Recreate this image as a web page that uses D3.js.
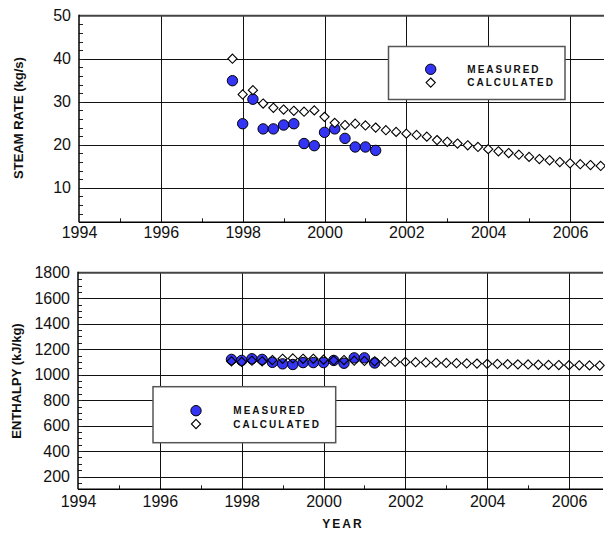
<!DOCTYPE html>
<html>
<head>
<meta charset="utf-8">
<script src="https://d3js.org/d3.v7.min.js"></script>
<style>
  body { margin: 0; background: #fff; }
  svg { display: block; font-family: Arial, "Liberation Sans", sans-serif; }
</style>
</head>
<body>
<div id="chart"></div>
<script>
var width = 605,
    height = 536;

// quarterly time points (calculated series), measured uses the first 15
var years = [1997.75, 1998, 1998.25, 1998.5, 1998.75, 1999, 1999.25, 1999.5, 1999.75,
             2000, 2000.25, 2000.5, 2000.75, 2001, 2001.25, 2001.5, 2001.75,
             2002, 2002.25, 2002.5, 2002.75, 2003, 2003.25, 2003.5, 2003.75,
             2004, 2004.25, 2004.5, 2004.75, 2005, 2005.25, 2005.5, 2005.75,
             2006, 2006.25, 2006.5, 2006.75];
var measuredYears = [1997.75, 1998, 1998.25, 1998.5, 1998.75, 1999, 1999.25, 1999.5,
                     1999.75, 2000, 2000.25, 2000.5, 2000.75, 2001, 2001.25];

var steamMeasured = [34.9, 24.9, 30.6, 23.7, 23.7, 24.6, 24.9, 20.3, 19.8, 22.9,
                     23.7, 21.5, 19.5, 19.5, 18.7];
var steamCalculated = [40.0, 31.7, 32.7, 29.6, 28.6, 28.2, 27.9, 27.7, 28.0, 26.5,
                       25.1, 24.6, 24.9, 24.5, 24.0, 23.4, 23.0, 22.6, 22.3, 21.9,
                       21.1, 20.7, 20.3, 19.9, 19.5, 19.0, 18.5, 18.1, 17.7, 17.2,
                       16.7, 16.4, 16.0, 15.7, 15.5, 15.3, 15.1];

var enthalpyMeasured = [1120, 1112, 1125, 1120, 1097, 1085, 1080, 1095, 1095, 1095,
                        1112, 1090, 1132, 1132, 1092];
var enthalpyCalculated = [1105, 1100, 1110, 1105, 1115, 1125, 1128, 1125, 1125, 1118,
                          1112, 1115, 1110, 1108, 1105, 1102, 1100, 1100, 1098, 1096,
                          1094, 1092, 1090, 1088, 1087, 1085, 1084, 1082, 1081, 1080,
                          1078, 1077, 1076, 1075, 1074, 1073, 1072];

var yearTicks = [1994, 1996, 1998, 2000, 2002, 2004, 2006];
var yearMinor = [1995, 1997, 1999, 2001, 2003, 2005];
var steamTicks = [10, 20, 30, 40, 50];
var enthalpyTicks = [200, 400, 600, 800, 1000, 1200, 1400, 1600, 1800];
var legendLabels = ["MEASURED", "CALCULATED"];

var blue = "#3434f4";

var svg = d3.select("#chart").append("svg")
    .attr("width", width)
    .attr("height", height);

function diamond(s) {
  return "M0," + (-s) + "L" + s + ",0L0," + s + "L" + (-s) + ",0Z";
}

function panel(opt) {
  var x = d3.scaleLinear().domain([1994, 2006.83]).range([opt.left, opt.right]);
  var y = d3.scaleLinear().domain(opt.yDomain).range([opt.bottom, opt.top]);

  var g = svg.append("g");

  // grid
  g.selectAll(".hgrid")
      .data(opt.yTicks.slice(0, -1))
    .enter().append("line")
      .attr("x1", opt.left).attr("x2", opt.right)
      .attr("y1", function(d) { return Math.round(y(d)) + 0.5; })
      .attr("y2", function(d) { return Math.round(y(d)) + 0.5; })
      .attr("stroke", "#111").attr("stroke-width", 1);
  g.selectAll(".vgrid")
      .data(yearTicks.slice(1))
    .enter().append("line")
      .attr("y1", opt.top).attr("y2", opt.bottom)
      .attr("x1", function(d) { return Math.round(x(d)) + 0.5; })
      .attr("x2", function(d) { return Math.round(x(d)) + 0.5; })
      .attr("stroke", "#111").attr("stroke-width", 1);

  // minor ticks
  g.selectAll(".yminor")
      .data(opt.yMinor)
    .enter().append("line")
      .attr("x1", opt.left).attr("x2", opt.left + 4)
      .attr("y1", function(d) { return Math.round(y(d)) + 0.5; })
      .attr("y2", function(d) { return Math.round(y(d)) + 0.5; })
      .attr("stroke", "#222");
  g.selectAll(".xminor")
      .data(yearMinor)
    .enter().append("line")
      .attr("y1", opt.bottom).attr("y2", opt.bottom - 4)
      .attr("x1", function(d) { return Math.round(x(d)) + 0.5; })
      .attr("x2", function(d) { return Math.round(x(d)) + 0.5; })
      .attr("stroke", "#222");

  // frame
  g.append("line")
      .attr("x1", opt.left).attr("x2", opt.right)
      .attr("y1", opt.top).attr("y2", opt.top)
      .attr("stroke", "#444").attr("stroke-width", 2);
  g.append("line")
      .attr("x1", opt.left).attr("x2", opt.right)
      .attr("y1", opt.bottom).attr("y2", opt.bottom)
      .attr("stroke", "#000").attr("stroke-width", 1.5);
  g.append("line")
      .attr("x1", opt.left).attr("x2", opt.left)
      .attr("y1", opt.top - 1).attr("y2", opt.bottom)
      .attr("stroke", "#000").attr("stroke-width", 1.5);

  // axes labels
  var yAxis = g.append("g")
      .attr("transform", "translate(" + opt.left + ",0)")
      .call(d3.axisLeft(y).tickValues(opt.yTicks).tickSize(0).tickPadding(8).tickFormat(d3.format("d")));
  var xAxis = g.append("g")
      .attr("transform", "translate(0," + opt.bottom + ")")
      .call(d3.axisBottom(x).tickValues(yearTicks).tickSize(0).tickPadding(opt.xPad).tickFormat(d3.format("d")));
  [yAxis, xAxis].forEach(function(a) {
    a.select(".domain").remove();
    a.selectAll("text")
        .attr("fill", "#111")
        .style("font-size", "16px")
        .style("font-family", "Arial, 'Liberation Sans', sans-serif");
  });

  // measured
  g.selectAll(".meas")
      .data(opt.measured)
    .enter().append("circle")
      .attr("cx", function(d, i) { return x(measuredYears[i]); })
      .attr("cy", function(d) { return y(d); })
      .attr("r", 5.2)
      .attr("fill", blue)
      .attr("stroke", "#000")
      .attr("stroke-width", 1);

  // calculated
  g.selectAll(".calc")
      .data(opt.calculated)
    .enter().append("path")
      .attr("d", diamond(4.6))
      .attr("transform", function(d, i) { return "translate(" + x(years[i]) + "," + y(d) + ")"; })
      .attr("fill", opt.diamondFill)
      .attr("stroke", "#000")
      .attr("stroke-width", 1.1);

  // legend
  var lg = g.append("g");
  lg.append("rect")
      .attr("x", opt.legend.x).attr("y", opt.legend.y)
      .attr("width", opt.legend.w).attr("height", opt.legend.h)
      .attr("fill", "#fff")
      .attr("stroke", "#555")
      .attr("stroke-width", 1.5);
  lg.append("circle")
      .attr("cx", opt.legend.sx).attr("cy", opt.legend.sy)
      .attr("r", 5.2)
      .attr("fill", blue).attr("stroke", "#000");
  lg.append("path")
      .attr("d", diamond(4.6))
      .attr("transform", "translate(" + opt.legend.sx + "," + (opt.legend.sy + 13.3) + ")")
      .attr("fill", "#fff").attr("stroke", "#000").attr("stroke-width", 1.1);
  lg.selectAll(".ltext")
      .data(legendLabels)
    .enter().append("text")
      .attr("x", opt.legend.tx)
      .attr("y", function(d, i) { return opt.legend.sy + 3.6 + i * 13.3; })
      .style("font-size", "10px")
      .style("font-weight", "bold")
      .style("letter-spacing", "2px")
      .attr("fill", "#111")
      .text(function(d) { return d; });

  // y title
  g.append("text")
      .attr("transform", "translate(" + opt.titleX + "," + opt.titleY + ") rotate(-90)")
      .attr("text-anchor", "middle")
      .style("font-size", "13px")
      .style("font-weight", "bold")
      .attr("fill", "#111")
      .text(opt.title);
}

panel({
  left: 79, right: 604, top: 15.7, bottom: 222.3,
  yDomain: [2, 50],
  yTicks: steamTicks,
  yMinor: d3.range(4, 50, 2),
  xPad: 4,
  measured: steamMeasured,
  calculated: steamCalculated,
  diamondFill: "#fff",
  legend: { x: 388.5, y: 46.5, w: 176.5, h: 53, sx: 430.7, sy: 69.3, tx: 467.3 },
  title: "STEAM RATE (kg/s)",
  titleX: 22.5, titleY: 118
});

panel({
  left: 78, right: 603, top: 272.8, bottom: 489.3,
  yDomain: [100, 1800],
  yTicks: enthalpyTicks,
  yMinor: d3.range(150, 1800, 50),
  xPad: 6,
  measured: enthalpyMeasured,
  calculated: enthalpyCalculated,
  diamondFill: "none",
  legend: { x: 153, y: 386.7, w: 182.7, h: 56, sx: 196, sy: 410.7, tx: 233.3 },
  title: "ENTHALPY (kJ/kg)",
  titleX: 21, titleY: 381
});

svg.append("text")
    .attr("x", 343)
    .attr("y", 528)
    .attr("text-anchor", "middle")
    .style("font-size", "12px")
    .style("font-weight", "bold")
    .style("letter-spacing", "2px")
    .attr("fill", "#111")
    .text("YEAR");
</script>
</body>
</html>
